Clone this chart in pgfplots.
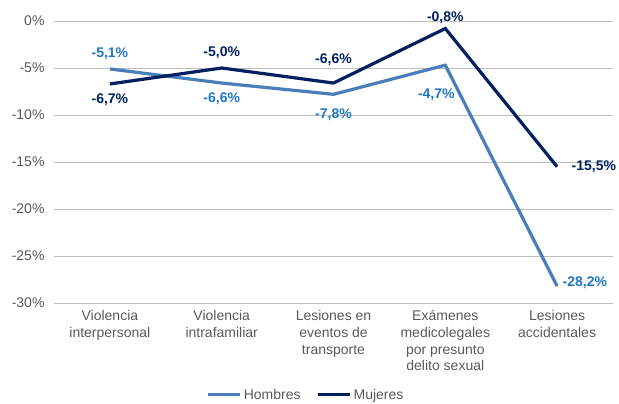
\documentclass[border=0pt]{standalone}
\usepackage{pgfplots}
\pgfplotsset{compat=1.18}
\usepackage{fontspec}
\setmainfont{Liberation Sans}
\definecolor{hline}{RGB}{74,126,187}
\definecolor{hlab}{RGB}{31,119,196}
\definecolor{mline}{RGB}{0,32,96}
\definecolor{tgray}{RGB}{89,89,89}
\definecolor{grid}{RGB}{217,217,217}
\begin{document}
\begin{tikzpicture}
\useasboundingbox (-54bp,-101bp) rectangle (565bp,303bp);
\begin{axis}[
  at={(0,0)}, anchor=south west,
  scale only axis, width=559bp, height=282bp,
  xmin=-0.5, xmax=4.5, ymin=-30, ymax=0,
  axis line style={draw=none},
  ytick={-30,-25,-20,-15,-10,-5,0},
  yticklabels={-30\%,-25\%,-20\%,-15\%,-10\%,-5\%,0\%},
  ymajorgrids, xmajorgrids=false, grid style={grid, line width=0.75bp},
  major tick length=0pt, minor tick num=0, tick style={draw=none},
  xtick={0,1,2,3,4},
  xticklabels={Violencia\\interpersonal, Violencia\\intrafamiliar, Lesiones en\\eventos de\\transporte, Exámenes\\medicolegales\\por presunto\\delito sexual, Lesiones\\accidentales},
  x tick label style={align=center, anchor=north, yshift=-4bp, font=\fontsize{14bp}{16.7bp}\selectfont, text=tgray},
  y tick label style={font=\fontsize{14bp}{16.7bp}\selectfont, text=tgray, xshift=-6bp},
  nodes near coords={\pgfplotspointmeta\%},
  point meta=explicit symbolic,
  visualization depends on={value \thisrow{anc} \as \myanc},
  visualization depends on={\thisrow{dx} \as \mydx},
  visualization depends on={\thisrow{dy} \as \mydy},
  every node near coord/.append style={anchor=\myanc, xshift=\mydx bp, yshift=\mydy bp, font=\bfseries\fontsize{14bp}{16.7bp}\selectfont, inner sep=2bp},
  legend columns=2,
  legend style={at={(0.451,-0.326)}, anchor=center, draw=none, fill=none,
    font=\fontsize{14bp}{16.7bp}\selectfont, text=tgray,
    /tikz/every even column/.append style={column sep=14bp}},
  legend image code/.code={\draw[#1, line width=3bp] (0bp,0bp) -- (32bp,0bp);},
  clip=false,
]
\addplot[color=hline, line width=3.2bp, mark=none, every node near coord/.append style={text=hlab}]
  table[x=x, y=y, meta=lab] {
x y lab anc dx dy
0 -5.1 -5,1 south 0 6
1 -6.6 -6,6 north 0 -6
2 -7.8 -7,8 north 0 -11
3 -4.7 -4,7 north -9 -20
4 -28.2 -28,2 west 2 3
};
\addlegendentry{Hombres}
\addplot[color=mline, line width=3.2bp, mark=none, every node near coord/.append style={text=mline}]
  table[x=x, y=y, meta=lab] {
x y lab anc dx dy
0 -6.7 -6,7 north 0 -6
1 -5.0 -5,0 south 0 6
2 -6.6 -6,6 south 0 14
3 -0.8 -0,8 south 0 1
4 -15.5 -15,5 west 11 0
};
\addlegendentry{Mujeres}
\end{axis}
\end{tikzpicture}
\end{document}
